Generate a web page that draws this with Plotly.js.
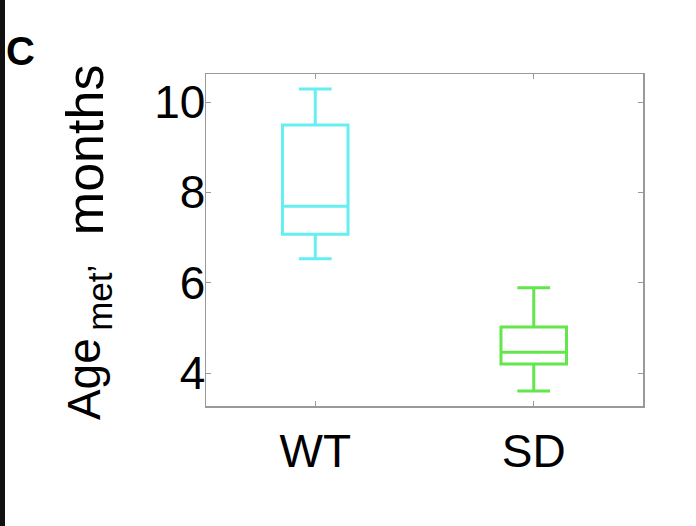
<!DOCTYPE html>
<html>
<head>
<meta charset="utf-8">
<script src="https://cdn.plot.ly/plotly-3.0.1.min.js"></script>
<style>
html,body{margin:0;padding:0;background:#fff;}
#bar{position:fixed;left:0;top:0;width:5px;height:526px;background:#111;z-index:10;}
#chart{width:696px;height:526px;}
</style>
</head>
<body>
<div id="bar"></div>
<div id="chart"></div>
<script>
// Data (box statistics, months)
const categories = ['WT', 'SD'];
const lowerFence = [6.53, 3.60];
const q1 = [7.07, 4.20];
const median = [7.69, 4.46];
const q3 = [9.49, 5.02];
const upperFence = [10.29, 5.89];
const colors = ['#66eef0', '#62e64c'];
const yTicks = [4, 6, 8, 10];

const traces = categories.map((c, i) => ({
  type: 'box',
  name: c,
  x: [c],
  q1: [q1[i]],
  median: [median[i]],
  q3: [q3[i]],
  lowerfence: [lowerFence[i]],
  upperfence: [upperFence[i]],
  boxpoints: false,
  width: 0.3,
  whiskerwidth: 0.5,
  fillcolor: 'rgba(0,0,0,0)',
  line: {color: colors[i], width: 3},
  hoverinfo: 'skip'
}));

const font = 'Liberation Sans, Arial, Helvetica, sans-serif';
const layout = {
  width: 696, height: 526,
  margin: {l: 206, r: 53, t: 74, b: 120},
  paper_bgcolor: '#fff', plot_bgcolor: '#fff',
  showlegend: false,
  font: {family: font, color: '#000'},
  xaxis: {
    type: 'category',
    range: [-0.5, 1.5],
    showline: true, linecolor: '#999', linewidth: 1.5, mirror: 'ticks',
    ticks: 'inside', ticklen: 5, tickcolor: '#999', tickwidth: 1,
    showgrid: false, zeroline: false,
    tickfont: {size: 46, family: font, color: '#000'},
    ticklabelstandoff: 4
  },
  yaxis: {
    range: [3.27, 10.62],
    tickvals: yTicks,
    ticktext: yTicks.map(String),
    showline: true, linecolor: '#999', linewidth: 1.5, mirror: 'ticks',
    ticks: 'inside', ticklen: 5, tickcolor: '#999', tickwidth: 1,
    showgrid: false, zeroline: false,
    tickfont: {size: 46, family: font, color: '#000'},
    ticklabelstandoff: -10
  },
  annotations: [
    {
      text: 'Age',
      textangle: -90,
      xref: 'paper', yref: 'paper',
      x: -0.2789, y: -0.048,
      xanchor: 'center', yanchor: 'bottom',
      showarrow: false,
      font: {size: 46, family: font, color: '#000'}
    },
    {
      text: 'met’',
      textangle: -90,
      xref: 'paper', yref: 'paper',
      x: -0.2428, y: 0.220,
      xanchor: 'center', yanchor: 'bottom',
      showarrow: false,
      font: {size: 35, family: font, color: '#000'}
    },
    {
      text: 'months',
      textangle: -90,
      xref: 'paper', yref: 'paper',
      x: -0.2770, y: 0.510,
      xanchor: 'center', yanchor: 'bottom',
      showarrow: false,
      font: {size: 52, family: font, color: '#000'}
    },
    {
      text: '<b>C</b>',
      xref: 'paper', yref: 'paper',
      x: -0.4255, y: 1.068,
      xanchor: 'center', yanchor: 'middle',
      showarrow: false,
      font: {size: 40, family: font, color: '#000'}
    }
  ]
};

Plotly.newPlot('chart', traces, layout, {displayModeBar: false, staticPlot: true});
</script>
</body>
</html>
